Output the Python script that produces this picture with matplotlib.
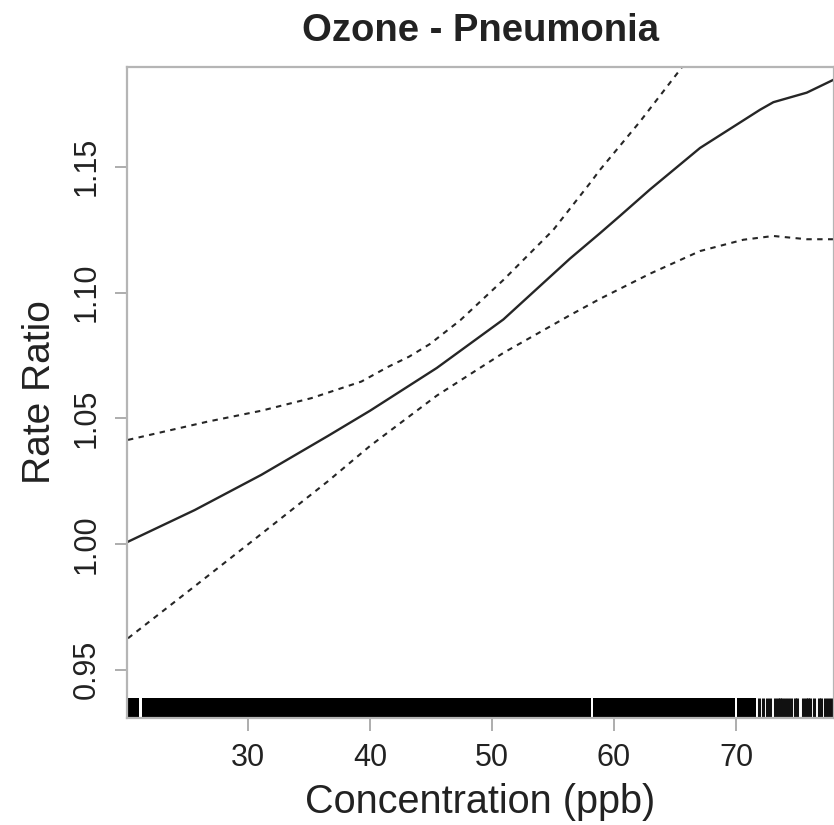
import matplotlib
matplotlib.use("Agg")
import matplotlib.pyplot as plt

# ---- data ----
conc_fit = [20.16, 25.63, 31.09, 36.56, 40.0, 45.47, 50.93, 56.39, 58.85, 60.49,
            62.95, 67.05, 71.97, 73.06, 75.80, 77.98]
rr_fit = [1.0009, 1.0135, 1.0275, 1.0430, 1.0530, 1.0700, 1.0893, 1.1135, 1.1236, 1.1305,
          1.1410, 1.1575, 1.1727, 1.1757, 1.1795, 1.1846]

conc_upper = [20.16, 26.72, 31.09, 35.19, 39.29, 41.5, 43.2, 44.9, 47.4, 50.93, 55.02,
              58.03, 58.85, 62.13, 65.41, 66.5]
rr_upper = [1.0414, 1.0487, 1.0530, 1.0580, 1.0646, 1.0705, 1.0745, 1.0795, 1.0890, 1.1050,
            1.1249, 1.1435, 1.1488, 1.1680, 1.1886, 1.1960]

conc_lower = [20.16, 25.63, 31.09, 36.56, 40.0, 45.47, 50.93, 56.39, 58.85, 60.49,
              62.95, 67.05, 70.60, 73.06, 75.80, 77.98]
rr_lower = [0.9625, 0.9832, 1.0040, 1.0250, 1.0390, 1.0590, 1.0760, 1.0910, 1.0975, 1.1015,
            1.1075, 1.1165, 1.1210, 1.1225, 1.1212, 1.1212]

# rug: stretches so dense they read as solid black, plus separate ticks
rug_dense_start = [20.08, 21.3, 58.3, 70.05]
rug_dense_end = [21.1, 58.1, 69.9, 71.6]
rug_ticks = [71.9, 72.2, 72.5, 72.8, 73.2, 73.4, 73.6, 73.8, 74.0, 74.3, 74.5, 74.8, 75.0,
             75.5, 75.7, 75.9, 76.1, 76.4, 76.8, 77.0, 77.3, 77.5, 77.8]

x_ticks = [30, 40, 50, 60, 70]
y_ticks = [0.95, 1.00, 1.05, 1.10, 1.15]
y_tick_labels = ["0.95", "1.00", "1.05", "1.10", "1.15"]

title = "Ozone - Pneumonia"
x_label = "Concentration (ppb)"
y_label = "Rate Ratio"

# ---- figure ----
plt.rcParams["font.family"] = ["Liberation Sans", "DejaVu Sans"]
W, H = 834, 825
fig = plt.figure(figsize=(W / 100, H / 100), dpi=100)
ax = fig.add_axes([127 / W, 1 - 718 / H, (833.5 - 127) / W, (718 - 67) / H])

line_col = "#262626"
ax.plot(conc_fit, rr_fit, color=line_col, lw=1.7, solid_joinstyle="round")
ax.plot(conc_upper, rr_upper, color=line_col, lw=1.5, dashes=(2.6, 2.6))
ax.plot(conc_lower, rr_lower, color=line_col, lw=1.5, dashes=(2.6, 2.6))

rug_h = 0.031
for s, e in zip(rug_dense_start, rug_dense_end):
    ax.axvspan(s, e, ymin=0, ymax=rug_h, color="black", lw=0)
ax.vlines(rug_ticks, 0, rug_h, transform=ax.get_xaxis_transform(), color="#111111", lw=2.2)

ax.set_xlim(20.08, 77.99)
ax.set_ylim(0.9308, 1.1897)

ax.set_xticks(x_ticks)
ax.set_yticks(y_ticks)
ax.set_yticklabels(y_tick_labels)

spine_col = "#b5b5b5"
for sp in ax.spines.values():
    sp.set_color(spine_col)
    sp.set_linewidth(1.6)

ax.tick_params(axis="both", direction="out", length=9, width=1.2, color="#a0a0a0",
               labelsize=22, labelcolor="#222222", pad=9)
ax.tick_params(axis="y", labelrotation=90)
for lab in ax.get_yticklabels():
    lab.set_verticalalignment("center")

ax.set_title(title, fontsize=27.5, fontweight="bold", color="#222222", pad=19)
ax.set_xlabel(x_label, fontsize=28.5, color="#222222", labelpad=7)
ax.set_ylabel(y_label, fontsize=28, color="#222222", labelpad=10)

fig.savefig("out.png", dpi=100)
